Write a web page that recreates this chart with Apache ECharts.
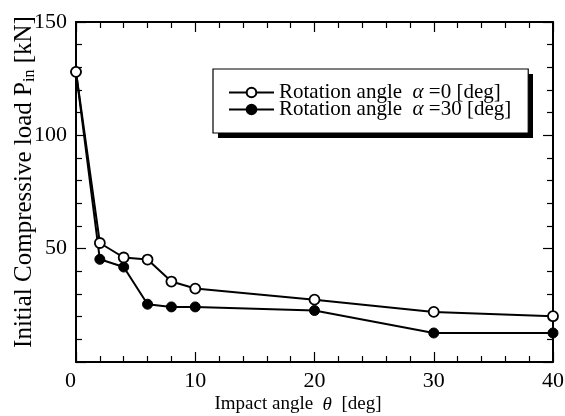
<!DOCTYPE html>
<html>
<head>
<meta charset="utf-8">
<script src="https://cdn.jsdelivr.net/npm/echarts@6/dist/echarts.min.js"></script>
<style>html,body{margin:0;padding:0;background:#fff}#c{width:565px;height:416px}</style>
</head>
<body>
<div id="c"></div>
<script>
const impactAngle = [0, 2, 4, 6, 8, 10, 20, 30, 40];
const loadAlpha0 = [128, 52.5, 46.1, 45.2, 35.5, 32.4, 27.5, 22.1, 20.2];
const loadAlpha30 = [128, 45.3, 41.9, 25.5, 24.3, 24.3, 22.7, 12.8, 12.8];
const seriesNames = ['Rotation angle α =0 [deg]', 'Rotation angle α =30 [deg]'];
const legendLabels = ['{n|Rotation angle  }{a|α}{n| =0 [deg]}', '{n|Rotation angle  }{a|α}{n| =30 [deg]}'];

const FONT = '"Liberation Serif", "Times New Roman", serif';
const chart = echarts.init(document.getElementById('c'), null, {renderer: 'canvas'});

function pairs(xs, ys) { return xs.map((x, i) => [x, ys[i]]); }

const axisCommon = {
  axisLine: {onZero: false, lineStyle: {color: '#000', width: 2}},
  splitLine: {show: false},
  axisTick: {inside: true, length: 10, lineStyle: {color: '#000', width: 1.2}},
  minorTick: {show: true, splitNumber: 5, length: 6, lineStyle: {color: '#000', width: 1.2}},
  axisLabel: {color: '#000', fontFamily: FONT, fontSize: 22}
};

chart.setOption({
  animation: false,
  backgroundColor: '#fff',
  grid: {left: 76, right: 12, top: 22, bottom: 54, containLabel: false, outerBoundsMode: 'none'},
  graphic: [{
    type: 'rect', z: 1, silent: true,
    shape: {x: 218, y: 74, width: 315, height: 64},
    style: {fill: '#000'}
  }],
  legend: {
    data: seriesNames,
    orient: 'vertical',
    left: 213, top: 69,
    padding: [13, 17, 13, 15],
    itemGap: -4,
    itemWidth: 45, itemHeight: 12,
    z: 5,
    backgroundColor: '#fff',
    borderColor: '#000', borderWidth: 1.2,
    formatter: function (name) { return legendLabels[seriesNames.indexOf(name)]; },
    textStyle: {
      color: '#000', fontFamily: FONT, fontSize: 21, lineHeight: 17,
      rich: {
        n: {fontFamily: FONT, fontSize: 21, color: '#000', lineHeight: 17},
        a: {fontFamily: FONT, fontSize: 21, fontStyle: 'italic', color: '#000', lineHeight: 17}
      }
    }
  },
  xAxis: [
    Object.assign({}, axisCommon, {
      type: 'value', min: 0, max: 40, interval: 10, position: 'bottom',
      name: '{n|Impact angle  }{t|θ}{n|  [deg]}',
      nameLocation: 'middle', nameGap: 33, nameMoveOverlap: false,
      nameTextStyle: {color: '#000', fontFamily: FONT, fontSize: 19, padding: [0, 33, 0, 0],
        rich: {n: {fontFamily: FONT, fontSize: 19, color: '#000'}, t: {fontFamily: FONT, fontSize: 19, fontStyle: 'italic', color: '#000'}}},
      axisLabel: {color: '#000', fontFamily: FONT, fontSize: 22, margin: 8, alignMinLabel: 'right'}
    }),
    Object.assign({}, axisCommon, {
      type: 'value', min: 0, max: 40, interval: 10, position: 'top',
      axisLabel: {show: false}
    })
  ],
  yAxis: [
    Object.assign({}, axisCommon, {
      type: 'value', min: 0, max: 150, interval: 50, position: 'left',
      name: '{n|Initial Compressive load P}{s|in}{n| [kN]}',
      nameLocation: 'middle', nameGap: 38, nameRotate: 90, nameMoveOverlap: false,
      nameTextStyle: {color: '#000', fontFamily: FONT, fontSize: 25, padding: [0, 0, 0, 20],
        rich: {n: {fontFamily: FONT, fontSize: 25, color: '#000', lineHeight: 27},
               s: {fontFamily: FONT, fontSize: 16, color: '#000', lineHeight: 27, verticalAlign: 'bottom', padding: [9, 0, 0, 0]}}},
      axisLabel: {color: '#000', fontFamily: FONT, fontSize: 22, margin: 9,
        formatter: function (v) { return v === 0 ? '' : String(v); }}
    }),
    Object.assign({}, axisCommon, {
      type: 'value', min: 0, max: 150, interval: 50, position: 'right',
      axisLabel: {show: false}
    })
  ],
  series: [
    {
      name: seriesNames[1], type: 'line', data: pairs(impactAngle, loadAlpha30),
      symbol: 'circle', symbolSize: 10, showSymbol: true,
      lineStyle: {color: '#000', width: 2},
      itemStyle: {color: '#000', borderColor: '#000', borderWidth: 1},
      z: 2
    },
    {
      name: seriesNames[0], type: 'line', data: pairs(impactAngle, loadAlpha0),
      symbol: 'circle', symbolSize: 10, showSymbol: true,
      lineStyle: {color: '#000', width: 2},
      itemStyle: {color: '#fff', borderColor: '#000', borderWidth: 1.8},
      z: 3
    }
  ]
});
</script>
</body>
</html>
